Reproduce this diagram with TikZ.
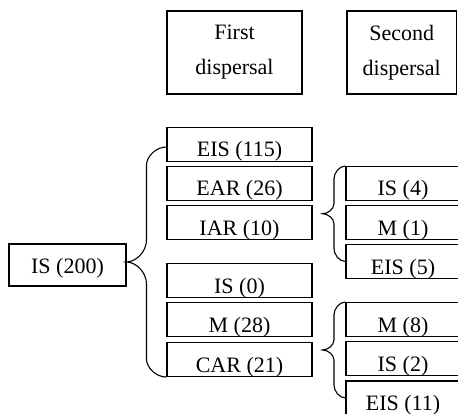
\documentclass[tikz,border=0pt]{standalone}
\usepackage{fontspec}
\setmainfont{Liberation Serif}
\usetikzlibrary{calc}

\tikzset{
  cell/.style={draw, line width=1.1pt, inner xsep=0pt, inner ysep=0pt,
    text height=29.5pt, text depth=4.5pt, font=\fontsize{22}{26}\selectfont},
  firstcol/.style={cell, minimum width=145pt},
  secondcol/.style={cell, minimum width=114pt},
  header/.style={draw, line width=1.1pt, inner sep=0pt, align=center,
    minimum height=83pt, font=\fontsize{22}{35}\selectfont},
  bracepen/.style={draw, line width=1.1pt},
}

% Curly brace: #1 top end, #2 bottom end, #3 tip, #4 end curl length, #5 tip curl length
\newcommand\curlybrace[5]{%
  \path[bracepen] let \p1=(#1), \p2=(#2), \p3=(#3), \n1={(\x1+\x3)/2} in
    (\p1) .. controls ({\x1-0.55*(\x1-\n1)}, \y1) and ({\n1*1pt}, {\y1-0.55*#4}) .. ({\n1*1pt}, {\y1-#4})
    -- ({\n1*1pt}, {\y3+#5})
    .. controls ({\n1*1pt}, {\y3+0.45*#5}) and ({\x3+0.45*(\n1-\x3)}, \y3) .. (\p3)
    .. controls ({\x3+0.45*(\n1-\x3)}, \y3) and ({\n1*1pt}, {\y3-0.45*#5}) .. ({\n1*1pt}, {\y3-#5})
    -- ({\n1*1pt}, {\y2+#4})
    .. controls ({\n1*1pt}, {\y2+0.55*#4}) and ({\x2-0.55*(\x2-\n1)}, \y2) .. (\p2);
}

\begin{document}
\begin{tikzpicture}[x=1pt, y=1pt]
  \useasboundingbox (0,0) rectangle (458,413);

  % column headers
  \node[header, minimum width=135pt] (hfirst) at (234.5,360.5) {First\\dispersal};
  \node[header, minimum width=109.5pt] (hsecond) at (401.75,360.5) {Second\\dispersal};

  % starting population
  \node[cell, minimum width=117pt, text height=29pt, text depth=13pt] (root) at (67.5,148) {IS (200)};

  % first dispersal
  \node[firstcol] (eisA) at (239.5,268.5) {EIS (115)};
  \node[firstcol] (earA) at (239.5,229.5) {EAR (26)};
  \node[firstcol] (iarA) at (239.5,190.5) {IAR (10)};
  \node[firstcol] (isA)  at (239.5,132.5) {IS (0)};
  \node[firstcol] (mA)   at (239.5,93.5)  {M (28)};
  \node[firstcol] (carA) at (239.5,53.5)  {CAR (21)};

  % second dispersal
  \node[secondcol] (isB)  at (403,229.5) {IS (4)};
  \node[secondcol] (mB)   at (403,190.5) {M (1)};
  \node[secondcol] (eisB) at (403,151.5) {EIS (5)};
  \node[secondcol] (mC)   at (403,93.5)  {M (8)};
  \node[secondcol] (isC)  at (403,54.5)  {IS (2)};
  \node[secondcol] (eisC) at (403,15)    {EIS (11)};

  % brace end points and tips
  \coordinate (bigtop) at ($(eisA.west)+(0,-2.5)$);
  \coordinate (bigtip) at ($(root.east)+(0,3)$);
  \coordinate (tipB) at ($(isB.north west)!0.5!(eisB.west)+(-23,0)$);
  \coordinate (tipC) at ($(mC.north west)!0.5!(eisC.west)+(-23,0)$);

  \curlybrace{bigtop}{carA.south west}{bigtip}{18}{22}
  \curlybrace{isB.north west}{eisB.west}{tipB}{13}{10}
  \curlybrace{mC.north west}{eisC.west}{tipC}{13}{10}
\end{tikzpicture}
\end{document}
